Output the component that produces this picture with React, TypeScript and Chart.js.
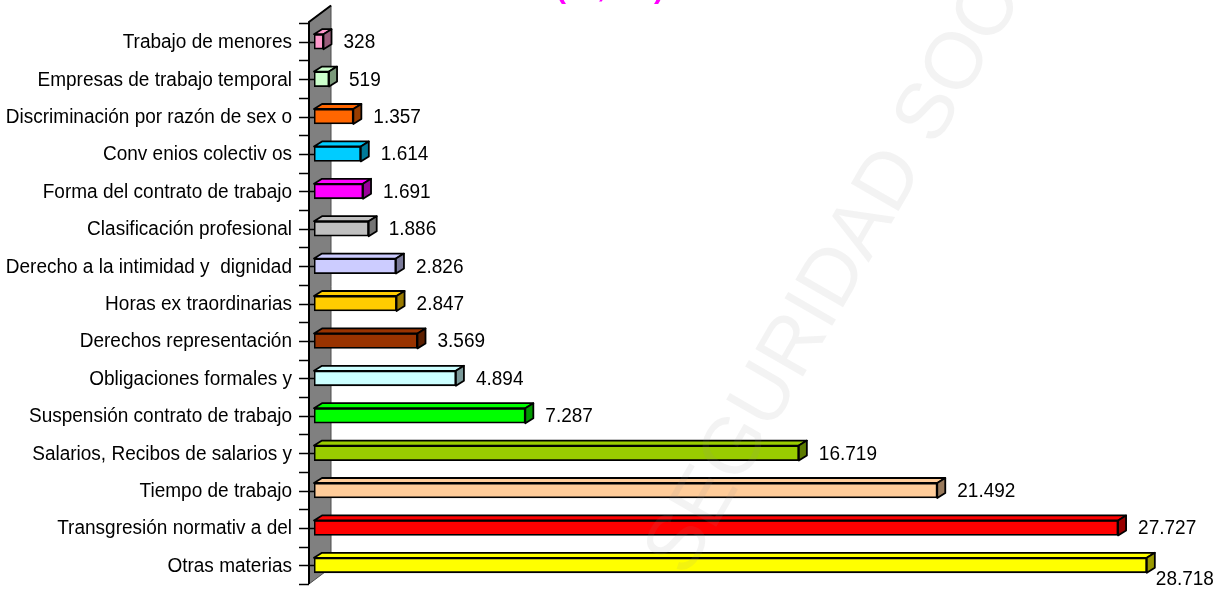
import React, { useEffect, useRef } from 'react';
import { Chart, registerables } from 'chart.js';

Chart.register(...registerables);

const categories = [
  'Trabajo de menores',
  'Empresas de trabajo temporal',
  'Discriminación por razón de sex o',
  'Conv enios colectiv os',
  'Forma del contrato de trabajo',
  'Clasificación profesional',
  'Derecho a la intimidad y  dignidad',
  'Horas ex traordinarias',
  'Derechos representación',
  'Obligaciones formales y',
  'Suspensión contrato de trabajo',
  'Salarios, Recibos de salarios y',
  'Tiempo de trabajo',
  'Transgresión normativ a del',
  'Otras materias',
];

const values = [328, 519, 1357, 1614, 1691, 1886, 2826, 2847, 3569, 4894, 7287, 16719, 21492, 27727, 28718];

const frontColors = [
  '#FF99CC', '#CCFFCC', '#FF6600', '#00CCFF', '#FF00FF',
  '#C0C0C0', '#CCCCFF', '#FFCC00', '#993300', '#CCFFFF',
  '#00FF00', '#99CC00', '#FFCC99', '#FF0000', '#FFFF00',
];

const sideColors = [
  '#995C7A', '#7A997A', '#993D00', '#007A99', '#990099',
  '#737373', '#7A7A99', '#997A00', '#5C1F00', '#7A9999',
  '#009900', '#5C7A00', '#997A5C', '#990000', '#999900',
];

const AXIS_MAX = 30000;
const titleText = 'Denuncias por materias';
const watermarkText = 'SEGURIDAD SOCIAL';

const FONT = "'Liberation Sans', Arial, sans-serif";
const TEXT_SIZE = 20;
const TEXT_SQUEEZE = 0.95;

function fmt(v: number): string {
  return String(v).replace(/\B(?=(\d{3})+(?!\d))/g, '.');
}

function squeezedText(ctx: any, txt: string, x: number, y: number, align: 'left' | 'right') {
  ctx.save();
  ctx.font = `${TEXT_SIZE}px ${FONT}`;
  ctx.fillStyle = '#000';
  ctx.textBaseline = 'middle';
  ctx.textAlign = align;
  ctx.translate(x, y);
  ctx.scale(TEXT_SQUEEZE, 1);
  ctx.fillText(txt, 0, 0);
  ctx.restore();
}

const bar3d = {
  id: 'bar3d',
  beforeDatasetsDraw(chart: any) {
    const { ctx, chartArea: ca, scales } = chart;
    const y = scales.y;
    const fx = ca.left - 5;
    const bx = ca.left + 17;
    const top = ca.top - 1;
    const d = 16.5;
    ctx.save();
    ctx.beginPath();
    ctx.moveTo(fx, top);
    ctx.lineTo(bx, top - d);
    ctx.lineTo(bx, ca.bottom - d);
    ctx.lineTo(fx, ca.bottom);
    ctx.closePath();
    ctx.fillStyle = '#808080';
    ctx.fill();
    ctx.lineWidth = 1;
    ctx.strokeStyle = '#4d4d4d';
    ctx.stroke();
    ctx.beginPath();
    ctx.moveTo(fx, ca.bottom);
    ctx.lineTo(fx, top);
    ctx.lineTo(bx, top - d);
    ctx.lineWidth = 2;
    ctx.strokeStyle = '#000';
    ctx.stroke();
    // tick marks
    ctx.lineWidth = 1.5;
    ctx.strokeStyle = '#000';
    const n = categories.length;
    const step = (ca.bottom - ca.top) / n;
    for (let i = 0; i <= n; i++) {
      const yy = Math.round(ca.top + i * step) + 0.5;
      ctx.beginPath();
      ctx.moveTo(fx - 10, yy);
      ctx.lineTo(fx, yy);
      ctx.stroke();
    }
    for (let i = 0; i < n; i++) {
      const yy = Math.round(y.getPixelForValue(i)) + 0.5;
      ctx.beginPath();
      ctx.moveTo(fx - 10, yy);
      ctx.lineTo(ca.left + 2, yy);
      ctx.stroke();
    }
    ctx.restore();
    // category labels
    categories.forEach((c, i) => {
      squeezedText(ctx, c, ca.left - 22, y.getPixelForValue(i) + 1, 'right');
    });
  },
  afterDatasetsDraw(chart: any) {
    const { ctx } = chart;
    const meta = chart.getDatasetMeta(0);
    const dx = 8;
    const dy = 5;
    ctx.save();
    ctx.lineJoin = 'round';
    meta.data.forEach((el: any, i: number) => {
      const { x, y, base, height } = el.getProps(['x', 'y', 'base', 'height'], true);
      const t = y - height / 2;
      const b = y + height / 2;
      ctx.lineWidth = 1.8;
      ctx.strokeStyle = '#000';
      // top face
      ctx.beginPath();
      ctx.moveTo(base, t);
      ctx.lineTo(base + dx, t - dy);
      ctx.lineTo(x + dx, t - dy);
      ctx.lineTo(x, t);
      ctx.closePath();
      ctx.fillStyle = frontColors[i];
      ctx.fill();
      ctx.stroke();
      // side face
      ctx.beginPath();
      ctx.moveTo(x, t);
      ctx.lineTo(x + dx, t - dy);
      ctx.lineTo(x + dx, b - dy);
      ctx.lineTo(x, b);
      ctx.closePath();
      ctx.fillStyle = sideColors[i];
      ctx.fill();
      ctx.stroke();
      // value label
      const txt = fmt(values[i]);
      ctx.font = `${TEXT_SIZE}px ${FONT}`;
      const w = ctx.measureText(txt).width * TEXT_SQUEEZE;
      let xl = x + dx + 12;
      let yl = y + 1;
      if (xl + w > chart.width - 12) {
        xl = x + dx + 1;
        yl = y + 14;
      }
      squeezedText(ctx, txt, xl, yl, 'left');
    });
    ctx.restore();
  },
  afterDraw(chart: any) {
    const { ctx } = chart;
    ctx.save();
    // watermark
    ctx.translate(865, 225);
    ctx.rotate((-60 * Math.PI) / 180);
    ctx.font = `80px ${FONT}`;
    ctx.textAlign = 'center';
    ctx.textBaseline = 'middle';
    ctx.fillStyle = 'rgba(150,150,150,0.11)';
    ctx.fillText(watermarkText, 0, 0);
    ctx.restore();
    // title (cut at top)
    ctx.save();
    ctx.font = `bold 30px ${FONT}`;
    ctx.fillStyle = '#FF00FF';
    ctx.textBaseline = 'alphabetic';
    ctx.textAlign = 'left';
    ctx.fillText('(', 556, -2);
    ctx.fillText(',', 597, -3);
    ctx.fillText(')', 654, -2);
    ctx.restore();
  },
};

export default function App() {
  const ref = useRef<HTMLCanvasElement>(null);
  useEffect(() => {
    const chart = new Chart(ref.current!, {
      type: 'bar',
      data: {
        labels: categories,
        datasets: [
          {
            label: titleText,
            data: values,
            backgroundColor: frontColors,
            borderColor: '#000',
            borderWidth: 1.8,
            borderSkipped: false,
            barThickness: 15,
          },
        ],
      },
      options: {
        indexAxis: 'y',
        responsive: false,
        animation: false,
        devicePixelRatio: 1,
        layout: { padding: { top: 23, bottom: 6, right: 45, left: 0 } },
        plugins: {
          legend: { display: false },
          tooltip: { enabled: false },
          title: { display: false },
        },
        scales: {
          x: {
            min: 0,
            max: AXIS_MAX,
            display: false,
          },
          y: {
            type: 'category',
            grid: { display: false, drawTicks: false },
            border: { display: false },
            ticks: { display: false, autoSkip: false },
            afterFit: (s: any) => {
              s.width = 314;
              s.paddingTop = 0;
              s.paddingBottom = 0;
            },
          },
        },
      },
      plugins: [bar3d],
    } as any);
    return () => chart.destroy();
  }, []);
  return (
    <div style={{ position: 'absolute', left: 0, top: 0, width: 1229, height: 590, background: '#fff' }}>
      <canvas ref={ref} width={1229} height={590} style={{ display: 'block', width: 1229, height: 590 }} />
    </div>
  );
}
